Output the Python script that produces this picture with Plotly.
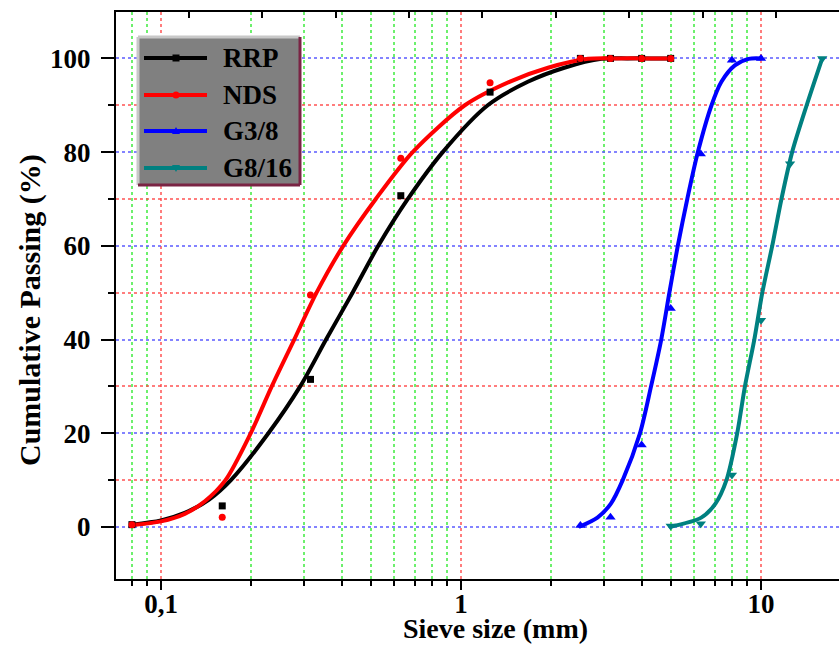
import plotly.graph_objects as go

# ---------------- data ----------------
sieve_pts = [0.08, 0.16, 0.315, 0.63, 1.25, 2.5, 3.15, 4, 5]
rrp_pts = [0.5, 4.5, 31.5, 70.7, 92.8, 100, 100, 100, 100]
nds_pts = [0.5, 2.1, 49.5, 78.7, 94.8, 100, 100, 100, 100]

g38_x = [2.5, 3.15, 4, 5, 6.3, 8, 10]
g38_y = [0.3, 2.1, 17.5, 46.6, 79.6, 99.6, 100]

g816_x = [5, 6.3, 8, 10, 12.5, 16]
g816_y = [0.2, 0.7, 11.1, 44.1, 77.5, 100]

# fitted curves
rrp_fit_x = [0.08, 0.1, 0.12, 0.145, 0.171, 0.228, 0.291, 0.355, 0.435, 0.53,
             0.665, 0.869, 1.228, 1.67, 2.21, 2.94, 3.6, 4.3, 5]
rrp_fit_y = [0.5, 1.4, 3.0, 5.9, 10, 20, 30, 40, 50, 60, 70, 80, 90, 95, 98,
             99.9, 100, 100, 100]
nds_fit_x = [0.08, 0.1, 0.12, 0.14, 0.164, 0.199, 0.234, 0.278, 0.33, 0.405,
             0.52, 0.69, 1.03, 1.45, 1.95, 2.65, 3.3, 4.1, 5]
nds_fit_y = [0.4, 1.2, 2.8, 5.5, 10, 20, 30, 40, 50, 60, 70, 80, 90, 95,
             98, 99.9, 100, 100, 100]
g38_fit_x = [2.47, 2.85, 3.16, 3.46, 3.95, 4.3, 4.65, 4.95, 5.28, 5.68, 6.16,
             6.84, 7.38, 8.18, 9.1, 10]
g38_fit_y = [0, 2, 5, 10, 20, 30, 40, 50, 60, 70, 80, 90, 95, 98.5, 99.9, 100]
g816_fit_x = [4.95, 6.32, 7.05, 7.67, 8.33, 8.84, 9.5, 10.1, 10.9, 11.7,
              12.7, 14.2, 16]
g816_fit_y = [0, 2, 5, 10, 20, 30, 40, 50, 60, 70, 80, 90, 100]

series_names = ["RRP", "NDS", "G3/8", "G8/16"]
series_colors = ["#000000", "#ff0000", "#0000ff", "#008080"]

x_major = [0.1, 1, 10]
x_major_text = ["0,1", "1", "10"]
x_minor = [0.08, 0.09, 0.2, 0.3, 0.4, 0.5, 0.6, 0.7, 0.8, 0.9,
           2, 3, 4, 5, 6, 7, 8, 9, 20]
y_major = [0, 20, 40, 60, 80, 100]
y_minor = [10, 30, 50, 70, 90]

# ---------------- figure ----------------
W, H = 839, 645
ML, MR, MT, MB = 116, 0, 12, 66
PW, PH = W - ML - MR, H - MT - MB

def px(x):
    return (x - ML) / PW

def py(y):
    return (H - MB - y) / PH

FONT = "Liberation Serif"

fig = go.Figure()

fits = [(rrp_fit_x, rrp_fit_y), (nds_fit_x, nds_fit_y),
        (g38_fit_x, g38_fit_y), (g816_fit_x, g816_fit_y)]
pts = [(sieve_pts, rrp_pts, "square", 7), (sieve_pts, nds_pts, "circle", 7),
       (g38_x, g38_y, "triangle-up", 9), (g816_x, g816_y, "triangle-down", 9)]

for i, name in enumerate(series_names):
    fx, fy = fits[i]
    fig.add_trace(go.Scatter(x=fx, y=fy, mode="lines", name=name,
                             line=dict(color=series_colors[i], width=4, shape="spline", smoothing=0.8),
                             showlegend=False))
for i, name in enumerate(series_names):
    xx, yy, sym, sz = pts[i]
    fig.add_trace(go.Scatter(x=xx, y=yy, mode="markers", name=name,
                             marker=dict(color=series_colors[i], symbol=sym, size=sz),
                             showlegend=False))

# invisible trace to carry the top axis
fig.add_trace(go.Scatter(x=[None], y=[None], xaxis="x2", showlegend=False, hoverinfo="skip"))

GRID_R = "rgba(255,70,70,0.7)"
GRID_G = "rgba(60,235,60,0.75)"
GRID_B = "rgba(90,90,255,0.75)"

fig.update_layout(
    width=W, height=H,
    margin=dict(l=ML, r=MR, t=MT, b=MB),
    paper_bgcolor="white", plot_bgcolor="white",
    font=dict(family=FONT, size=26, color="black"),
    xaxis=dict(type="log", range=[-1.15, 1.26], showline=True, linecolor="black", linewidth=2,
               mirror=False, ticks="outside", ticklen=9, tickwidth=2, tickcolor="black",
               tickmode="array", tickvals=x_major, ticktext=x_major_text,
               ticklabelstandoff=-9,
               tickfont=dict(family=FONT, size=27, color="black", weight="bold"),
               showgrid=True, gridcolor=GRID_R, griddash="dot", gridwidth=1.5,
               minor=dict(tickmode="array", tickvals=x_minor, ticks="outside", ticklen=5,
                          tickwidth=1.5, tickcolor="black", showgrid=True,
                          gridcolor=GRID_G, griddash="dot", gridwidth=1.5),
               zeroline=False),
    xaxis2=dict(overlaying="x", side="top", range=[-0.995, 8.86], showline=True,
                linecolor="black", linewidth=2, ticks="inside", ticklen=6, tickwidth=2,
                tickcolor="black", dtick=1, tick0=0, showticklabels=False, showgrid=False,
                zeroline=False),
    yaxis=dict(range=[-11.1, 109.9], showline=True, linecolor="black", linewidth=2,
               ticks="outside", ticklen=13, tickwidth=2, tickcolor="black",
               tickmode="array", tickvals=y_major, ticklabelstandoff=5,
               tickfont=dict(family=FONT, size=27, color="black", weight="bold"),
               showgrid=True, gridcolor=GRID_B, griddash="dot", gridwidth=1.5,
               minor=dict(tickmode="array", tickvals=y_minor, ticks="outside", ticklen=6,
                          tickwidth=1.5, tickcolor="black", showgrid=True,
                          gridcolor=GRID_R, griddash="dot", gridwidth=1.5),
               zeroline=False),
)

# axis titles as annotations
fig.add_annotation(text="<b>Sieve size (mm)</b>", xref="paper", yref="paper",
                   x=px(495), y=py(629), xanchor="center", yanchor="middle", showarrow=False,
                   font=dict(family=FONT, size=28, color="black"))
fig.add_annotation(text="<b>Cumulative Passing (%)</b>", xref="paper", yref="paper",
                   x=px(30), y=py(310), xanchor="center", yanchor="middle", showarrow=False,
                   textangle=-90, font=dict(family=FONT, size=30, color="black"))

# ---------- hand-drawn legend box (Origin style) ----------
bx0, by0, bx1, by1 = 138, 37, 300, 185
fig.add_shape(type="rect", xref="paper", yref="paper", x0=px(bx0), x1=px(bx1),
              y0=py(by1), y1=py(by0), fillcolor="#808080", line=dict(width=0), layer="above")
fig.add_shape(type="line", xref="paper", yref="paper", x0=px(bx0), x1=px(bx1), y0=py(by0), y1=py(by0),
              line=dict(color="#c8c8c8", width=3), layer="above")
fig.add_shape(type="line", xref="paper", yref="paper", x0=px(bx0), x1=px(bx0), y0=py(by0), y1=py(by1),
              line=dict(color="#c8c8c8", width=3), layer="above")
fig.add_shape(type="line", xref="paper", yref="paper", x0=px(bx1), x1=px(bx1), y0=py(by0), y1=py(by1),
              line=dict(color="#7a2444", width=3), layer="above")
fig.add_shape(type="line", xref="paper", yref="paper", x0=px(bx0), x1=px(bx1), y0=py(by1), y1=py(by1),
              line=dict(color="#7a2444", width=3), layer="above")

rows = [58, 95, 131, 168]
for i, name in enumerate(series_names):
    yr = rows[i]
    c = series_colors[i]
    fig.add_shape(type="line", xref="paper", yref="paper", x0=px(144), x1=px(207),
                  y0=py(yr), y1=py(yr), line=dict(color=c, width=4), layer="above")
    mx = 176
    if i == 0:
        fig.add_shape(type="rect", xref="paper", yref="paper", x0=px(mx - 3.5), x1=px(mx + 3.5),
                      y0=py(yr + 3.5), y1=py(yr - 3.5), fillcolor=c, line=dict(width=0), layer="above")
    elif i == 1:
        fig.add_shape(type="circle", xref="paper", yref="paper", x0=px(mx - 3.5), x1=px(mx + 3.5),
                      y0=py(yr + 3.5), y1=py(yr - 3.5), fillcolor=c, line=dict(width=0), layer="above")
    else:
        d = -1 if i == 2 else 1
        path = "M {:.5f} {:.5f} L {:.5f} {:.5f} L {:.5f} {:.5f} Z".format(
            px(mx - 4), py(yr - d * 3), px(mx + 4), py(yr - d * 3), px(mx), py(yr + d * 4))
        fig.add_shape(type="path", xref="paper", yref="paper", path=path,
                      fillcolor=c, line=dict(width=0), layer="above")
    fig.add_annotation(text="<b>" + name + "</b>", xref="paper", yref="paper",
                       x=px(221), y=py(yr), xanchor="left", yanchor="middle", showarrow=False,
                       font=dict(family=FONT, size=27, color="black"))

fig.write_html("out.html")
